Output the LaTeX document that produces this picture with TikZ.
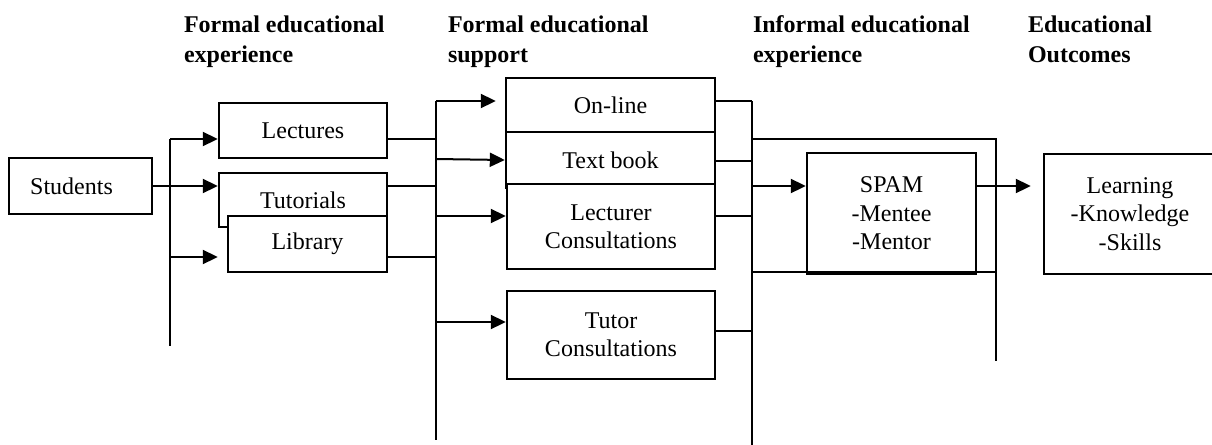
\documentclass[tikz,border=0pt]{standalone}
\usepackage{fontspec}
\setmainfont{Liberation Serif}
\usetikzlibrary{arrows.meta}

\begin{document}
\begin{tikzpicture}[x=0.5pt, y=-0.5pt, line width=1pt,
    box/.style={draw, line width=1.2pt, fill=white, inner sep=0pt, align=center,
        font=\fontsize{12}{14.2}\selectfont},
    hdr/.style={anchor=north west, inner sep=0pt, align=left,
        font=\fontsize{12}{15}\selectfont\bfseries},
    arr/.style={-{Triangle[length=7.5pt,width=7pt]}}]
    \clip (0,0) rectangle (1212,445);

    % column headings
    \node[hdr] (h1) at (183,15) {Formal educational\\experience};
    \node[hdr] (h2) at (447,15) {Formal educational\\support};
    \node[hdr] (h3) at (752,15) {Informal educational\\experience};
    \node[hdr] (h4) at (1027,15) {Educational\\Outcomes};

    % boxes
    \node[box, minimum width=71.5pt, minimum height=28pt] (stud) at (80.5,186) {Students\hspace*{9pt}};
    \node[box, minimum width=84pt, minimum height=27.5pt] (lect) at (303,130.5) {Lectures};
    \node[box, minimum width=84pt, minimum height=27pt] (tut) at (303,200) {Tutorials};
    \node[box, minimum width=79.5pt, minimum height=28pt] (lib) at (307.5,244) {Library};
    \node[box, minimum width=104.5pt, minimum height=27pt] (online) at (610.5,105) {On-line};
    \node[box, minimum width=104.5pt, minimum height=28pt] (tbook) at (610.5,160) {Text book};
    \node[box, minimum width=104pt, minimum height=42.5pt] (lcons) at (611,226.5) {Lecturer\\Consultations};
    \node[box, minimum width=104pt, minimum height=44pt] (tcons) at (611,335) {Tutor\\Consultations};
    \node[box, minimum width=84.5pt, minimum height=60.5pt] (spam) at (891.5,213.5) {SPAM\\-Mentee\\-Mentor};
    \node[box, minimum width=86pt, minimum height=60pt] (learn) at (1130,214) {Learning\\-Knowledge\\-Skills};

    % junction points
    \coordinate (a1) at (170,139);
    \coordinate (a2) at (170,257);
    \coordinate (a3) at (170,346);
    \coordinate (b1) at (436,101);
    \coordinate (b2) at (436,159);
    \coordinate (b3) at (436,216);
    \coordinate (b4) at (436,322);
    \coordinate (b5) at (436,440);
    \coordinate (c1) at (752,101);
    \coordinate (c2) at (752,139);
    \coordinate (c3) at (752,161);
    \coordinate (c4) at (752,186);
    \coordinate (c5) at (752,216);
    \coordinate (c6) at (752,272);
    \coordinate (c7) at (752,331);
    \coordinate (c8) at (752,445);
    \coordinate (d1) at (996,139);
    \coordinate (d2) at (996,272);
    \coordinate (d3) at (996,361);

    % students to formal experience
    \draw (a1) -- (a3);
    \draw[arr] (a1) -- (a1 -| lect.west);
    \draw[arr] (stud.east) -- (stud.east -| tut.west);
    \draw[arr] (a2) -- ([xshift=-4.5pt]lib.west |- a2);

    % formal experience to support
    \draw (lect.east |- a1) -- (a1 -| b1);
    \draw (tut.east |- stud.east) -- (stud.east -| b1);
    \draw (lib.east |- a2) -- (a2 -| b1);
    \draw (b1) -- (b5);
    \draw[arr] (b1) -- ([xshift=-4.5pt]online.west |- b1);
    \draw[arr] (b2) -- (tbook.west);
    \draw[arr] (b3) -- (b3 -| lcons.west);
    \draw[arr] (b4) -- (b4 -| tcons.west);

    % support to informal experience
    \draw (online.east |- c1) -- (c1);
    \draw (tbook.east |- c3) -- (c3);
    \draw (lcons.east |- c5) -- (c5);
    \draw (tcons.east |- c7) -- (c7);
    \draw (c1) -- (c8);
    \draw (c2) -- (d1) -- (d3);
    \draw (c6) -- (d2);
    \draw[arr] (c4) -- (c4 -| spam.west);

    % informal experience to outcomes
    \draw[arr] (spam.east |- c4) -- ([xshift=-6pt]learn.west |- c4);
\end{tikzpicture}
\end{document}
